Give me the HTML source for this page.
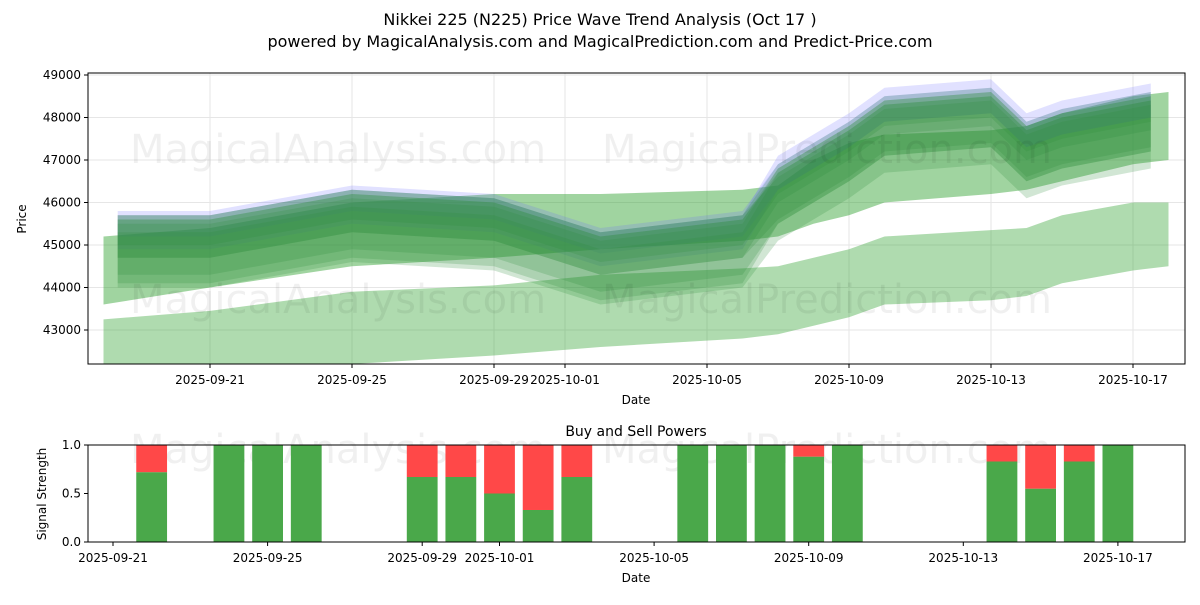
<!DOCTYPE html>
<html><head><meta charset="utf-8"><style>
body{margin:0;background:#fff;font-family:"Liberation Sans","DejaVu Sans",sans-serif}
svg text{font-family:"DejaVu Sans","Liberation Sans",sans-serif}
</style></head><body>
<svg id="c" width="1200" height="600" xmlns="http://www.w3.org/2000/svg">
<rect width="1200" height="600" fill="#fff"/>
<text x="600" y="25" text-anchor="middle" font-size="16">Nikkei 225 (N225) Price Wave Trend Analysis (Oct 17 )</text>
<text x="600" y="47" text-anchor="middle" font-size="16">powered by MagicalAnalysis.com and MagicalPrediction.com and Predict-Price.com</text>
<g id="topg"></g><g id="botg"></g>
</svg>
<script>
// ---- data ----
const bandDays = [0,3,7,11,14,18,19,20,21,22,25,26,27,29,30];
const lowBandTop = [43250,43450,43900,44050,44300,44450,44500,44700,44900,45200,45350,45400,45700,46000,46000];
const lowBandBot = [41500,41900,42200,42400,42600,42800,42900,43100,43300,43600,43700,43800,44100,44400,44500];
const wideBandTop = [45200,45400,46000,46200,46200,46300,46400,47000,47400,47600,47700,47800,48100,48500,48600];
const wideBandBot = [43600,44000,44500,44700,44900,45100,45200,45500,45700,46000,46200,46300,46500,46900,47000];
const centerDays = [0.4,3,7,11,14,18,19,20,21,22,25,26,27,29.5];
const centerVals = [45000,45000,45600,45400,44600,45000,46200,46700,47200,47800,48000,47200,47500,47900];
const greenOffsets = [[0,0,700],[200,-300,500],[-300,200,600],[100,100,400],[-200,-100,800],[300,0,300]];
const blueOffsets = [[300,200,400],[500,-100,300]];
const barDays = ['2025-09-22','2025-09-24','2025-09-25','2025-09-26','2025-09-29','2025-09-30','2025-10-01','2025-10-02','2025-10-03','2025-10-06','2025-10-07','2025-10-08','2025-10-09','2025-10-10','2025-10-14','2025-10-15','2025-10-16','2025-10-17'];
const buyVals = [0.72,1,1,1,0.67,0.67,0.5,0.33,0.67,1,1,1,0.88,1,0.83,0.55,0.83,1];
const topTicks = ['2025-09-21','2025-09-25','2025-09-29','2025-10-01','2025-10-05','2025-10-09','2025-10-13','2025-10-17'];
const botTicks = ['2025-09-21','2025-09-25','2025-09-29','2025-10-01','2025-10-05','2025-10-09','2025-10-13','2025-10-17'];
const priceTicks = [43000,44000,45000,46000,47000,48000,49000];
const sigTicks = [0,0.5,1];
// ---- helpers ----
const NS='http://www.w3.org/2000/svg';
const dayMs=86400000, base=Date.UTC(2025,8,18);
const dnum=s=>(Date.parse(s+'T00:00:00Z')-base)/dayMs;
const tx=d=>210+(d-3)*35.5;
const ty=v=>75+(49000-v)*0.0425;
const bx=d=>113+(d-3)*38.65;
const by=v=>542-v*97;
function mk(p,tag,at){const e=document.createElementNS(NS,tag);for(const k in at)e.setAttribute(k,at[k]);p.appendChild(e);return e;}
const topG=document.getElementById('topg'), botG=document.getElementById('botg');
const clip=mk(topG,'clipPath',{id:'cp'});mk(clip,'rect',{x:88,y:73,width:1097,height:291});
const plot=mk(topG,'g',{'clip-path':'url(#cp)'});
priceTicks.forEach(v=>{mk(plot,'line',{x1:88,x2:1185,y1:ty(v),y2:ty(v),stroke:'#e6e6e6'});});
topTicks.forEach(s=>{mk(plot,'line',{x1:tx(dnum(s)),x2:tx(dnum(s)),y1:73,y2:364,stroke:'#e6e6e6'});});
const wm=mk(topG,'g',{fill:'#000','fill-opacity':0.06,'font-size':40});
[[130,163,'MagicalAnalysis.com'],[602,163,'MagicalPrediction.com'],[130,313,'MagicalAnalysis.com'],[602,313,'MagicalPrediction.com']].forEach(a=>{const t=mk(wm,'text',{x:a[0],y:a[1]});t.textContent=a[2];});
function band(days,up,lo,fill,op,name){
  let d='M'+days.map((x,i)=>tx(x)+','+ty(up[i])).join('L');
  d+='L'+days.map((x,i)=>[tx(x),ty(lo[i])]).reverse().map(p=>p.join(',')).join('L')+'Z';
  const p=mk(plot,'path',{d:d,fill:fill,'fill-opacity':op});
  
  
}
band(bandDays,lowBandTop,lowBandBot,'#2ca02c',0.38,'low-forecast-band');
band(bandDays,wideBandTop,wideBandBot,'#2ca02c',0.45,'wide-forecast-band');
blueOffsets.forEach(o=>{const up=centerVals.map((v,i)=>v+o[0]+(i>5?o[1]:0)+o[2]);const lo=centerVals.map((v,i)=>v+o[0]+(i>5?o[1]:0)-o[2]);band(centerDays,up,lo,'#6b6bff',0.2,'blue-wave-band');});
greenOffsets.forEach(o=>{const up=centerVals.map((v,i)=>v+o[0]+(i>5?o[1]:0)+o[2]);const lo=centerVals.map((v,i)=>v+o[0]+(i>5?o[1]:0)-o[2]);band(centerDays,up,lo,'#2e8b3a',0.22,'green-wave-band');});
mk(topG,'rect',{x:88,y:73,width:1097,height:291,fill:'none',stroke:'#000','stroke-width':1});
priceTicks.forEach(v=>{mk(topG,'line',{x1:84,x2:88,y1:ty(v),y2:ty(v),stroke:'#000'});const t=mk(topG,'text',{x:81,y:ty(v)+4,'text-anchor':'end','font-size':12});t.textContent=v;});
topTicks.forEach(s=>{const x=tx(dnum(s));mk(topG,'line',{x1:x,x2:x,y1:364,y2:368,stroke:'#000'});const t=mk(topG,'text',{x:x,y:384,'text-anchor':'middle','font-size':12});t.textContent=s;});
let t=mk(topG,'text',{x:636,y:404,'text-anchor':'middle','font-size':12});t.textContent='Date';
t=mk(topG,'text',{x:26,y:219,'text-anchor':'middle','font-size':12,transform:'rotate(-90 26 219)'});t.textContent='Price';
const wm2=mk(botG,'g',{fill:'#000','fill-opacity':0.06,'font-size':40});
[[130,463,'MagicalAnalysis.com'],[602,463,'MagicalPrediction.com']].forEach(a=>{const t=mk(wm2,'text',{x:a[0],y:a[1]});t.textContent=a[2];});
barDays.forEach((s,i)=>{const x=bx(dnum(s))-15.4;
  const g=mk(botG,'rect',{x:x,y:by(buyVals[i]),width:30.8,height:by(0)-by(buyVals[i]),fill:'#4aa84a'});
  
  
  const r=mk(botG,'rect',{x:x,y:by(1),width:30.8,height:by(buyVals[i])-by(1),fill:'#ff4848'});
  
  });
mk(botG,'rect',{x:88,y:445,width:1097,height:97,fill:'none',stroke:'#000'});
sigTicks.forEach(v=>{mk(botG,'line',{x1:84,x2:88,y1:by(v),y2:by(v),stroke:'#000'});const t=mk(botG,'text',{x:81,y:by(v)+4,'text-anchor':'end','font-size':12});t.textContent=v.toFixed(1);});
botTicks.forEach(s=>{const x=bx(dnum(s));mk(botG,'line',{x1:x,x2:x,y1:542,y2:546,stroke:'#000'});const t=mk(botG,'text',{x:x,y:562,'text-anchor':'middle','font-size':12});t.textContent=s;});
t=mk(botG,'text',{x:636,y:582,'text-anchor':'middle','font-size':12});t.textContent='Date';
t=mk(botG,'text',{x:636,y:436,'text-anchor':'middle','font-size':14});t.textContent='Buy and Sell Powers';
t=mk(botG,'text',{x:46,y:494,'text-anchor':'middle','font-size':12,transform:'rotate(-90 46 494)'});t.textContent='Signal Strength';
</script>
</body></html>
